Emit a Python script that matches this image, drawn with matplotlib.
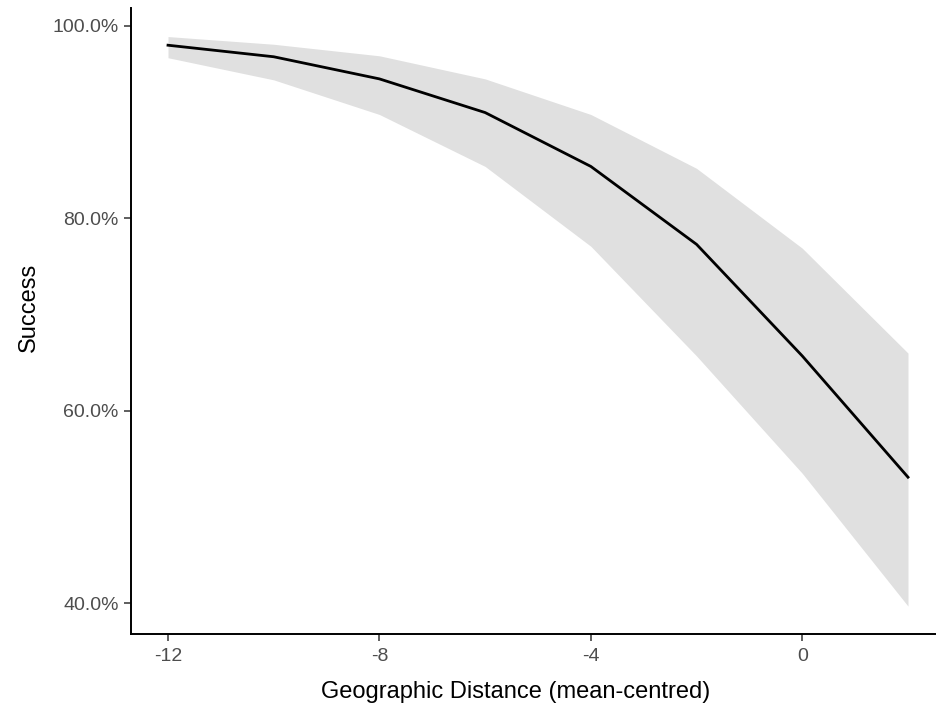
import matplotlib.pyplot as plt
from matplotlib.ticker import FuncFormatter

# predicted success vs geographic distance
distance = [-12, -10, -8, -6, -4, -2, 0, 2]
success = [98.0, 96.8, 94.5, 91.0, 85.4, 77.3, 65.7, 53.1]
lower = [96.7, 94.4, 90.8, 85.4, 77.1, 65.7, 53.5, 39.7]
upper = [98.9, 98.1, 96.9, 94.5, 90.8, 85.2, 76.9, 66.0]

x_ticks = [-12, -8, -4, 0]
y_ticks = [40, 60, 80, 100]

plt.rcParams["font.family"] = ["Liberation Sans", "DejaVu Sans"]

fig = plt.figure(figsize=(9.36, 7.06), dpi=100)
ax = fig.add_axes([131 / 936, 1 - 634 / 706, (945 - 131) / 936, (634 - 7.7) / 706])

ax.fill_between(distance, lower, upper, color="#E0E0E0", linewidth=0, zorder=1)
ax.plot(distance, success, color="black", linewidth=2.0, zorder=2)

ax.set_xlim(-12.7, 2.7)
ax.set_ylim(36.8, 101.9)
ax.set_xticks(x_ticks)
ax.set_yticks(y_ticks)
ax.yaxis.set_major_formatter(FuncFormatter(lambda v, _: f"{v:.1f}%"))
ax.xaxis.set_major_formatter(FuncFormatter(lambda v, _: f"{v:g}".replace("\u2212", "-")))

for side in ("top", "right"):
    ax.spines[side].set_visible(False)
for side in ("left", "bottom"):
    ax.spines[side].set_linewidth(1.4)
    ax.spines[side].set_color("black")

ax.tick_params(axis="both", length=5, width=1.1, color="#333333",
               labelsize=14, labelcolor="#4D4D4D")
ax.tick_params(axis="x", pad=5)
ax.tick_params(axis="y", pad=4)

ax.set_xlabel("Geographic Distance (mean-centred)", fontsize=17, labelpad=11.5)
ax.set_ylabel("Success", fontsize=17, labelpad=9)
# titles sit a bit off the panel centre in the reference
ax.xaxis.label.set_x(0.472)
ax.yaxis.label.set_y(0.522)

fig.savefig("out.png", dpi=100)
